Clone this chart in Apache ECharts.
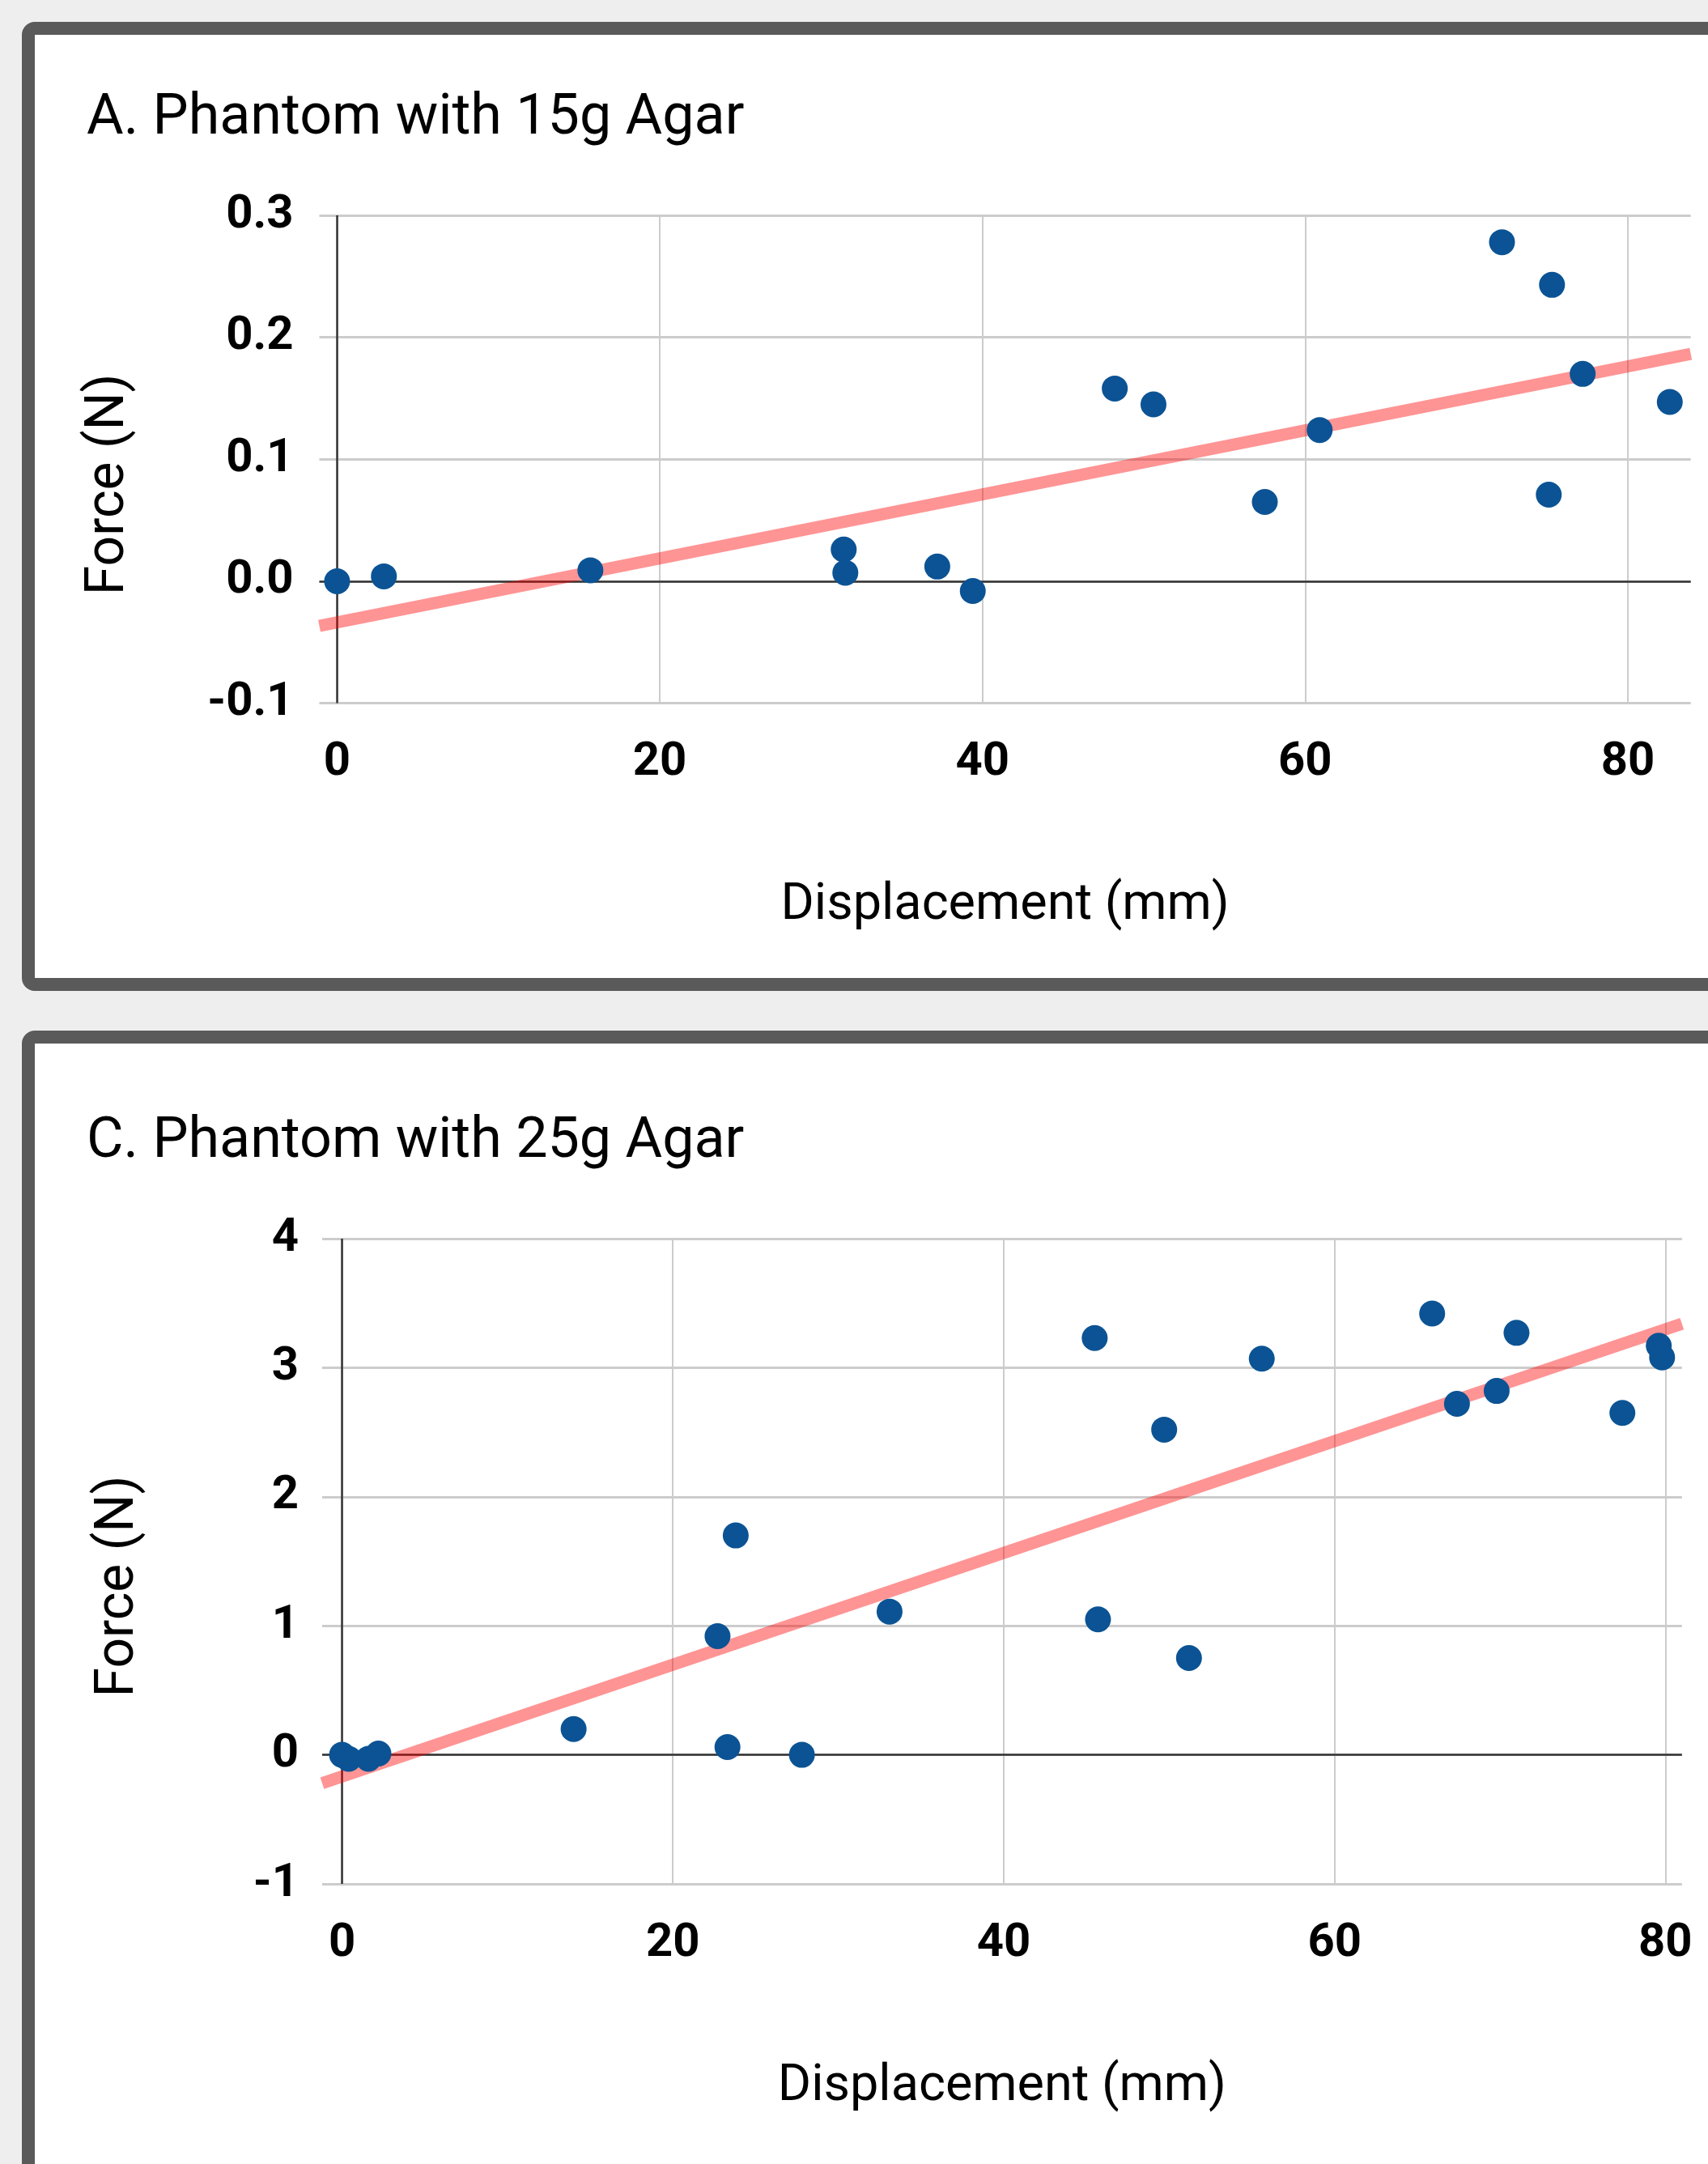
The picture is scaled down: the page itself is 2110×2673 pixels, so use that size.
<!DOCTYPE html>
<html>
<head>
<meta charset="utf-8">
<script src="https://cdn.jsdelivr.net/npm/echarts@6/dist/echarts.min.js"></script>
<style>
html,body{margin:0;padding:0;background:#eeeeee;}
#chart{width:2110px;height:2673px;}
</style>
</head>
<body>
<div id="chart"></div>
<script>
// ---- Data ----
const titleA = 'A. Phantom with 15g Agar';
const titleC = 'C. Phantom with 25g Agar';
const xAxisTitle = 'Displacement (mm)';
const yAxisTitle = 'Force (N)';

const xTicks = [0, 20, 40, 60, 80];
const yTickLabelsA = ['-0.1', '0.0', '0.1', '0.2', '0.3'];
const yTickLabelsC = ['-1', '0', '1', '2', '3', '4'];

const dispA  = [0, 2.9, 15.7, 31.4, 31.5, 37.2, 39.4, 48.2, 50.6, 57.5, 60.9, 72.2, 75.3, 75.1, 77.2, 82.6];
const forceA = [0.000, 0.004, 0.009, 0.026, 0.007, 0.012, -0.008, 0.158, 0.145, 0.065, 0.124, 0.278, 0.243, 0.071, 0.170, 0.147];
const trendAx = [-1.1, 83.9];
const trendAy = [-0.0366, 0.1864];

const dispC  = [0, 0.4, 1.6, 2.2, 14.0, 22.7, 23.3, 23.8, 27.8, 33.1, 45.5, 45.7, 49.7, 51.2, 55.6, 65.9, 67.4, 69.8, 71.0, 77.4, 79.6, 79.8];
const forceC = [0, -0.03, -0.03, 0.01, 0.20, 0.92, 0.06, 1.70, 0.00, 1.11, 3.23, 1.05, 2.52, 0.75, 3.07, 3.42, 2.72, 2.82, 3.27, 2.65, 3.17, 3.08];
const trendCx = [-1.2, 81];
const trendCy = [-0.22, 3.34];

// ---- Build ----
const zip = (a, b) => a.map((v, i) => [v, b[i]]);
const FONT = 'Roboto, "Noto Sans", sans-serif';
const gridColor = '#cccccc';

function xAxisCfg(gridIndex, min, max) {
  return {
    type: 'value', gridIndex, min, max,
    position: 'bottom',
    axisLine: { show: false, onZero: false },
    axisTick: { show: false, customValues: xTicks },
    axisLabel: {
      customValues: xTicks,
      margin: 45, fontSize: 58, lineHeight: 58, fontWeight: 'bold',
      fontFamily: FONT, color: '#000'
    },
    splitLine: { show: true, lineStyle: { color: gridColor, width: 2 } },
    name: xAxisTitle, nameLocation: 'middle', nameGap: 219,
    nameTextStyle: { fontSize: 63, lineHeight: 64, fontFamily: FONT, color: '#000' }
  };
}
function yAxisCfg(gridIndex, min, max, interval, labels, margin, nameGap) {
  return {
    type: 'value', gridIndex, min, max, interval,
    position: 'left',
    axisLine: { show: false, onZero: false },
    axisTick: { show: false },
    axisLabel: {
      margin, fontSize: 58, lineHeight: 58, fontWeight: 'bold',
      fontFamily: FONT, color: '#000', padding: [9, 0, 0, 0],
      formatter: (v, i) => labels[i]
    },
    splitLine: { show: true, lineStyle: { color: gridColor, width: 3 } },
    name: yAxisTitle, nameLocation: 'middle', nameGap,
    nameTextStyle: { fontSize: 66, lineHeight: 66, fontFamily: FONT, color: '#000', padding: [0, 62, 0, 0] }
  };
}
function seriesFor(idx, pts, tx, ty) {
  return [
    {
      type: 'line', xAxisIndex: idx, yAxisIndex: idx,
      data: zip(tx, ty), showSymbol: false, symbol: 'none', silent: true, z: 2,
      lineStyle: { color: 'rgba(255,0,0,0.42)', width: 15, cap: 'butt' },
      markLine: {
        z: 1, silent: true, symbol: ['none', 'none'], label: { show: false },
        lineStyle: { color: '#333333', width: 2.5, type: 'solid' },
        data: [{ yAxis: 0 }, { xAxis: 0 }]
      }
    },
    {
      type: 'scatter', xAxisIndex: idx, yAxisIndex: idx, z: 3,
      data: pts, symbolSize: 32,
      itemStyle: { color: '#0b5394', opacity: 1 }
    }
  ];
}

const chart = echarts.init(document.getElementById('chart'), null, { renderer: 'canvas' });
chart.setOption({
  backgroundColor: '#eeeeee',
  animation: false,
  graphic: [
    { type: 'rect', z: -10, shape: { x: 35, y: 35, width: 2300, height: 1181, r: 8 },
      style: { fill: '#ffffff', stroke: '#5a5a5a', lineWidth: 16 } },
    { type: 'rect', z: -10, shape: { x: 35, y: 1281, width: 2300, height: 1700, r: 8 },
      style: { fill: '#ffffff', stroke: '#5a5a5a', lineWidth: 16 } }
  ],
  title: [
    { text: titleA, left: 107, top: 112, padding: 0,
      textStyle: { fontSize: 70, lineHeight: 70, fontWeight: 'normal', fontFamily: FONT, color: '#000' } },
    { text: titleC, left: 107, top: 1376, padding: 0,
      textStyle: { fontSize: 70, lineHeight: 70, fontWeight: 'normal', fontFamily: FONT, color: '#000' } }
  ],
  grid: [
    { left: 394.5, top: 266, width: 1694.2, height: 602.6, containLabel: false },
    { left: 398, top: 1530, width: 1679.8, height: 797, containLabel: false }
  ],
  xAxis: [ xAxisCfg(0, -1.1, 83.9), xAxisCfg(1, -1.2, 81) ],
  yAxis: [
    yAxisCfg(0, -0.1, 0.3, 0.1, yTickLabelsA, 32, 226),
    yAxisCfg(1, -1, 4, 1, yTickLabelsC, 29, 218)
  ],
  series: [
    ...seriesFor(0, zip(dispA, forceA), trendAx, trendAy),
    ...seriesFor(1, zip(dispC, forceC), trendCx, trendCy)
  ]
});
</script>
</body>
</html>
